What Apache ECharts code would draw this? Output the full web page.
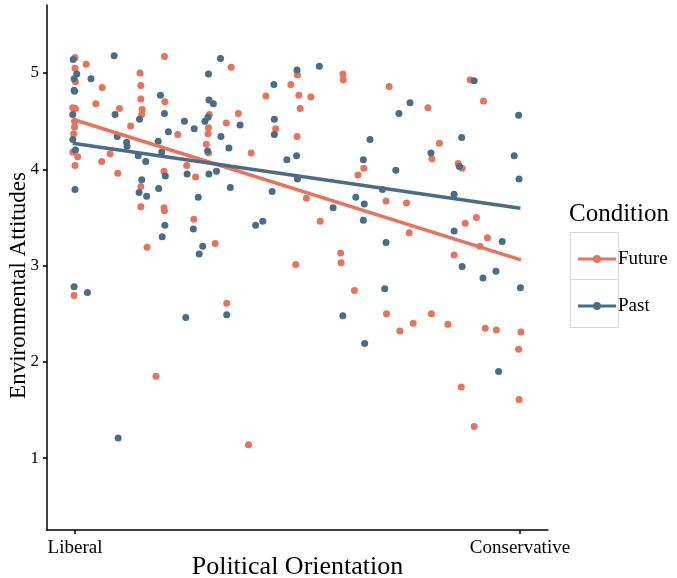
<!DOCTYPE html>
<html>
<head>
<meta charset="utf-8">
<script src="https://cdn.jsdelivr.net/npm/echarts@6/dist/echarts.min.js"></script>
<style>html,body{margin:0;padding:0;background:#fff;}#c{width:677px;height:578px;}</style>
</head>
<body>
<div id="c"></div>
<script>
// Political orientation: 0 = Liberal, 100 = Conservative; y = Environmental Attitudes
const xTickValues = [0, 100];
const xTickLabels = ['Liberal', 'Conservative'];
const yTickValues = [1, 2, 3, 4, 5];
const conditions = ['Future', 'Past'];

const futurePoints = [
[0,5.16],[2.5,5.09],[0,5.05],[0.1,4.91],[6.1,4.85],[4.7,4.68],[-0.5,4.64],[0.1,4.63],[10.0,4.63],
[-0.1,4.50],[-0.1,4.44],[-0.3,4.37],[-0.5,4.18],[0.6,4.13],[7.9,4.16],[6.0,4.08],[0,4.04],[9.6,3.96],
[-0.2,2.69],[18.2,1.85],[16.2,3.19],[31.5,3.23],[20.1,5.17],[14.6,5.00],[14.8,4.87],[14.8,4.73],
[20.2,4.70],[15.1,4.62],[15.0,4.57],[12.5,4.45],[23.1,4.36],[30.2,4.57],[30.0,4.43],[29.9,4.37],
[29.5,4.26],[30.0,4.17],[25.1,4.04],[20.0,3.98],[27.1,3.92],[34.0,4.48],[14.8,3.82],[14.8,3.61],
[20.0,3.60],[20.1,3.57],[26.7,3.48],[35.1,5.06],[50.0,4.98],[60.2,4.99],[60.3,4.93],[48.5,4.88],
[42.9,4.76],[50.3,4.77],[53.0,4.75],[50.6,4.63],[36.7,4.58],[45.1,4.42],[49.9,4.34],[39.6,4.17],
[64.9,4.01],[63.6,3.94],[52.0,3.70],[55.1,3.46],[49.6,3.01],[59.7,3.13],[59.8,3.03],[62.8,2.74],
[34.1,2.61],[39.0,1.14],[88.8,4.93],[70.6,4.86],[91.8,4.71],[79.3,4.64],[81.9,4.27],[80.2,4.11],
[86.1,4.06],[87.0,4.01],[69.9,3.67],[74.5,3.65],[90.2,3.50],[87.7,3.44],[75.1,3.34],[92.7,3.29],
[91.0,3.20],[85.2,3.11],[70.0,2.50],[73.0,2.32],[76.0,2.40],[80.1,2.50],[83.8,2.39],[92.2,2.35],
[94.7,2.33],[100.2,2.31],[99.7,2.13],[86.8,1.74],[99.8,1.61],[89.7,1.33]
];

const pastPoints = [
[-0.4,5.14],[8.8,5.18],[0.4,4.99],[-0.2,4.94],[3.6,4.94],[-0.2,4.82],[-0.1,4.81],[9.0,4.57],
[-0.5,4.57],[-0.5,4.31],[0.1,4.20],[0,3.79],[-0.2,2.78],[2.8,2.72],[9.7,1.21],[24.9,2.46],
[19.6,3.30],[27.9,3.12],[28.7,3.20],[26.6,3.38],[32.7,5.15],[30.0,4.99],[19.2,4.77],[30.1,4.72],
[31.1,4.68],[20.1,4.58],[14.5,4.52],[24.6,4.50],[26.8,4.42],[29.2,4.50],[29.9,4.54],[32.8,4.34],
[21.0,4.39],[11.6,4.28],[11.7,4.24],[18.7,4.29],[29.8,4.19],[14.2,4.14],[15.9,4.08],[19.5,4.18],
[25.2,3.95],[20.3,3.93],[30.1,3.95],[31.8,3.98],[15.0,3.89],[14.4,3.76],[16.1,3.72],[18.8,3.80],
[27.7,3.71],[20.2,3.42],[49.9,5.03],[54.9,5.07],[44.7,4.88],[44.8,4.52],[37.1,4.46],[44.8,4.36],
[34.6,4.22],[66.3,4.31],[49.8,4.14],[47.6,4.10],[64.8,4.10],[50.0,3.90],[34.9,3.81],[44.3,3.77],
[63.1,3.71],[65.0,3.64],[58.0,3.60],[40.6,3.42],[42.2,3.46],[64.8,3.47],[89.7,4.92],[75.3,4.69],
[72.8,4.58],[99.7,4.56],[86.9,4.33],[80.0,4.17],[98.7,4.14],[72.1,3.99],[99.8,3.90],[86.4,4.03],
[69.1,3.79],[85.2,3.74],[85.2,3.36],[69.9,3.24],[96.0,3.25],[87.0,2.99],[94.6,2.94],[91.7,2.87],
[69.6,2.76],[100.1,2.77],[95.2,1.90],[34.1,2.49],[60.2,2.48],[65.1,2.19],[9.5,4.34]
];

// linear fit lines (start, end)
const futureFit = [[-0.5, 4.52], [100.2, 3.06]];
const pastFit = [[-0.5, 4.27], [100.1, 3.595]];

const colors = {Future: '#E8735A', Past: '#4A6C87'};
const serif = '"Liberation Serif", "DejaVu Serif", serif';
const keyIcon = 'path://M0,3.5L15.5,3.5L15.5,6.5L0,6.5Z M22.5,3.5L38,3.5L38,6.5L22.5,6.5Z M15,5A4,4 0 1,1 23,5A4,4 0 1,1 15,5Z';

const chart = echarts.init(document.getElementById('c'), null, {renderer: 'canvas'});
chart.setOption({
  animation: false,
  backgroundColor: '#fff',
  grid: {left: 47, right: 129, top: 5, bottom: 48, containLabel: false, outerBoundsMode: 'none'},
  title: {
    text: 'Condition', left: 564, top: 197,
    textStyle: {fontFamily: serif, fontSize: 25, fontWeight: 'normal', color: '#000'}
  },
  legend: {
    orient: 'vertical', left: 573, top: 244,
    itemWidth: 38, itemHeight: 8, itemGap: 27,
    data: conditions.map(n => ({name: n, icon: keyIcon})),
    textStyle: {fontFamily: serif, fontSize: 19, color: '#000', lineHeight: 20, padding: [0, 0, 0, -3]},
    selectedMode: false
  },
  graphic: [
    {type: 'rect', left: 568, top: 230, shape: {width: 48, height: 47}, style: {fill: 'none', stroke: '#d8d8d8', lineWidth: 1}},
    {type: 'rect', left: 568, top: 277, shape: {width: 48, height: 48}, style: {fill: 'none', stroke: '#d8d8d8', lineWidth: 1}}
  ],
  xAxis: {
    type: 'value', min: -6.29, max: 106.3,
    name: 'Political Orientation', nameLocation: 'middle', nameGap: 24, nameMoveOverlap: false,
    nameTextStyle: {fontFamily: serif, fontSize: 26, color: '#000'},
    axisLine: {show: true, onZero: false, lineStyle: {color: '#000', width: 1.5}},
    axisTick: {show: true, customValues: xTickValues, length: 4, lineStyle: {color: '#000', width: 1.5}},
    axisLabel: {
      customValues: xTickValues, margin: 9,
      formatter: v => xTickLabels[xTickValues.indexOf(v)] || '',
      fontFamily: serif, fontSize: 19, color: '#000'
    },
    splitLine: {show: false}
  },
  yAxis: {
    type: 'value', min: 0.254, max: 5.706,
    name: 'Environmental Attitudes', nameLocation: 'middle', nameGap: 17, nameRotate: 90, nameMoveOverlap: false,
    nameTextStyle: {fontFamily: serif, fontSize: 23, color: '#000', padding: [0, 36, 0, 0]},
    axisLine: {show: true, onZero: false, lineStyle: {color: '#000', width: 1.5}},
    axisTick: {show: true, customValues: yTickValues, length: 4, lineStyle: {color: '#000', width: 1.5}},
    axisLabel: {customValues: yTickValues, margin: 8, fontFamily: serif, fontSize: 17, color: '#000'},
    splitLine: {show: false}
  },
  series: [
    {name: 'Future', type: 'scatter', data: futurePoints, symbolSize: 7, itemStyle: {color: colors.Future, opacity: 1}, z: 2},
    {name: 'Past', type: 'scatter', data: pastPoints, symbolSize: 7, itemStyle: {color: colors.Past, opacity: 1}, z: 2},
    {name: 'Future', type: 'line', data: futureFit, showSymbol: false, silent: true, lineStyle: {color: colors.Future, width: 3.5}, itemStyle: {color: colors.Future}, z: 3},
    {name: 'Past', type: 'line', data: pastFit, showSymbol: false, silent: true, lineStyle: {color: colors.Past, width: 3.5}, itemStyle: {color: colors.Past}, z: 4}
  ]
});
</script>
</body>
</html>
